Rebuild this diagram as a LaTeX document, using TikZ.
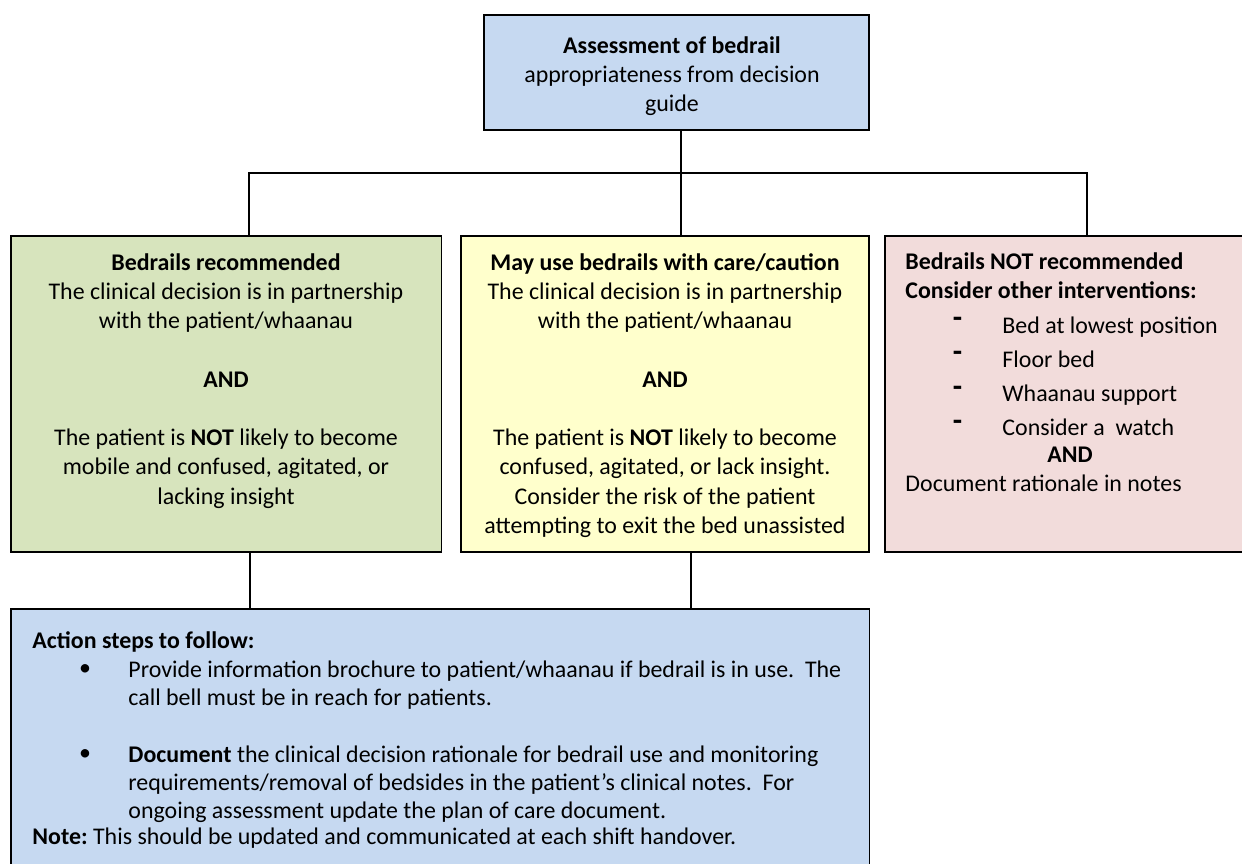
\documentclass[tikz,border=0pt]{standalone}
\usepackage{fontspec}
\setmainfont{Carlito}
\usetikzlibrary{fit}
\definecolor{boxblue}{HTML}{C6D9F1}
\definecolor{boxgreen}{HTML}{D7E4BD}
\definecolor{boxyellow}{HTML}{FFFFCC}
\definecolor{boxpink}{HTML}{F2DCDB}
\newcommand\fstrut{\rule{0pt}{10pt}}
\tikzset{
  boxnode/.style={draw=black, line width=0.9pt, inner sep=0pt, rectangle},
  link/.style={draw=black, line width=0.75pt},
  txt/.style={inner sep=0pt, font=\fontsize{11}{13.43}\selectfont},
  txtb/.style={inner sep=0pt, font=\fontsize{11}{12.9}\selectfont},
}
\begin{document}
\begin{tikzpicture}[x=0.46pt, y=-0.46pt]
\useasboundingbox (0,0) rectangle (1242,863);
\clip (0,0) rectangle (1242,863);
% boxes
\node[boxnode, fill=boxblue, fit={(484,15) (869,130)}] (top) {};
\node[boxnode, fill=boxgreen, fit={(11,236) (441.5,552)}] (green) {};
\node[boxnode, fill=boxyellow, fit={(461,236) (869,552)}] (yellow) {};
\node[boxnode, fill=boxpink, fit={(885,236) (1270,552)}] (pink) {};
\node[boxnode, fill=boxblue, fit={(11,609) (869.5,890)}] (bottom) {};
% connectors
\coordinate (jl) at (249,173);
\coordinate (jm) at (681,173);
\coordinate (jr) at (1087,173);
\coordinate (bl) at (250,0);
\coordinate (br) at (691,0);
\draw[link] (top.south -| jm) -- (jm);
\draw[link] (green.north -| jl) -- (jl) -- (jr) -- (pink.north -| jr);
\draw[link] (jm) -- (yellow.north -| jm);
\draw[link] (green.south -| bl) -- (bottom.north -| bl);
\draw[link] (yellow.south -| br) -- (bottom.north -| br);
% top text
\node[txt, anchor=north, align=center] (ttop) at (672,31.3)
  {\fstrut\textbf{Assessment of bedrail}\\appropriateness from decision\\guide};
% green text
\node[txt, anchor=north, align=center] (tgreen) at (226,248.3)
  {\fstrut\textbf{Bedrails recommended}\\The clinical decision is in partnership\\with the patient/whaanau\\[13.43pt]\textbf{AND}\\[13.43pt]The patient is \textbf{NOT} likely to become\\mobile and confused, agitated, or\\lacking insight};
% yellow text
\node[txt, anchor=north, align=center] (tyellow) at (665,248.3)
  {\fstrut\textbf{May use bedrails with care/caution}\\The clinical decision is in partnership\\with the patient/whaanau\\[13.43pt]\textbf{AND}\\[13.43pt]The patient is \textbf{NOT} likely to become\\confused, agitated, or lack insight.\\Consider the risk of the patient\\attempting to exit the bed unassisted};
% pink text
\node[txt, anchor=base west, font=\fontsize{11}{13.43}\selectfont\bfseries] (p1) at (905,270) {Bedrails NOT recommended};
\node[txt, anchor=base west, font=\fontsize{11}{13.43}\selectfont\bfseries] (p2) at (905,299) {Consider other interventions:};
\foreach \yy/\tt [count=\i] in {333/Bed at lowest position, 367/Floor bed, 401/Whaanau support, 435/Consider a\ \ watch}{
  \node[txt, anchor=base, font=\fontsize{14}{16}\selectfont\bfseries] (pd\i) at (957.5,\yy-5) {-};
  \node[txt, anchor=base west] (pi\i) at (1002,\yy) {\tt};
}
\node[txt, anchor=base, font=\fontsize{11}{13.43}\selectfont\bfseries] (pand) at (1070,462) {AND};
\node[txt, anchor=base west] (pdoc) at (905,491) {Document rationale in notes};
% bottom text
\node[txt, anchor=base west] (bact) at (32,648) {\textbf{Action steps to follow:}};
\node[txt, anchor=base] (bb1) at (85,677) {\raisebox{0.8pt}{\textbullet}};
\node[txt, anchor=base] (bb2) at (85,762) {\raisebox{0.8pt}{\textbullet}};
\node[txtb, anchor=north west, align=left] (bt1) at (128,655.3)
  {\fstrut Provide information brochure to patient/whaanau if bedrail is in use.\ \ The\\call bell must be in reach for patients.};
\node[txtb, anchor=north west, align=left] (bt2) at (128,740.3)
  {\fstrut\textbf{Document} the clinical decision rationale for bedrail use and monitoring\\requirements/removal of bedsides in the patient’s clinical notes.\ \ For\\ongoing assessment update the plan of care document.};
\node[txt, anchor=base west] (bnote) at (32,844) {\textbf{Note:}\ This should be updated and communicated at each shift handover.};
\end{tikzpicture}
\end{document}
